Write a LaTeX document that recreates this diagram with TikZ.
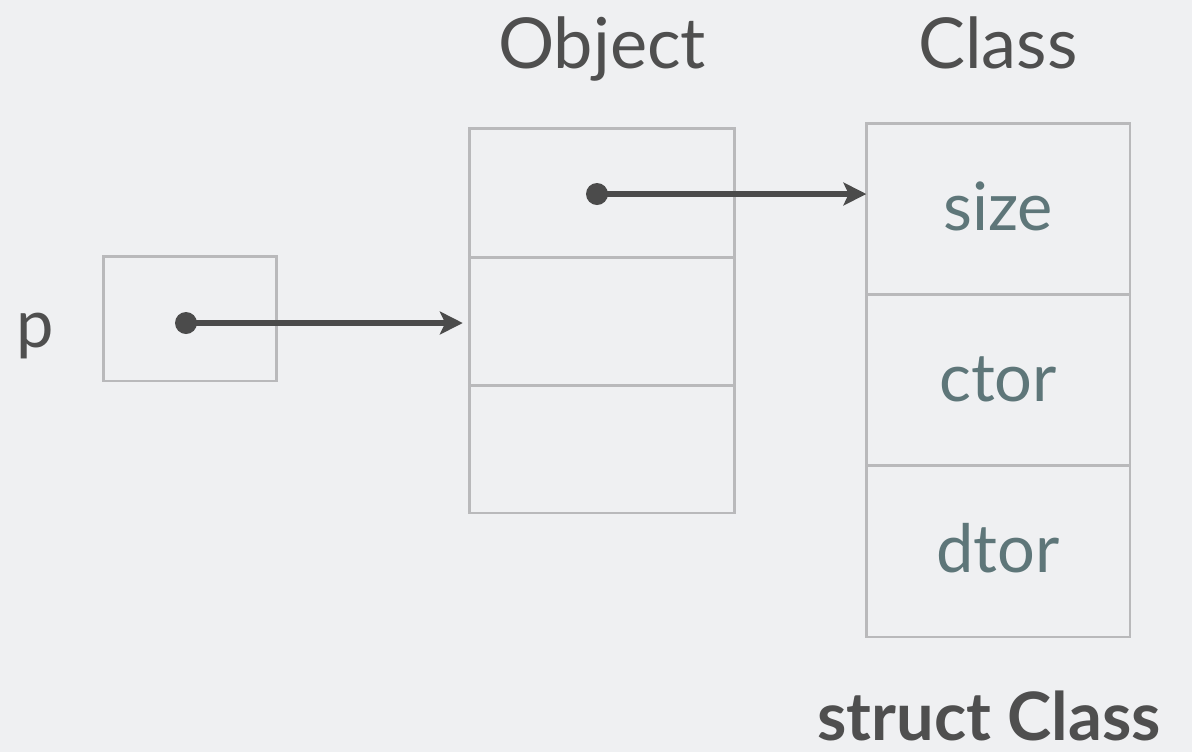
\documentclass[tikz,border=0pt]{standalone}
\usepackage{fontspec}
\setmainfont{Lato}
\usepackage{tikz}
\usetikzlibrary{positioning, arrows.meta}
\definecolor{bgcol}{HTML}{EFF0F2}
\definecolor{boxcol}{HTML}{B9B9BB}
\definecolor{arrcol}{HTML}{4B4B4B}
\definecolor{txtcol}{HTML}{4F4F4F}
\definecolor{fieldcol}{HTML}{5E7679}

\begin{document}
\begin{tikzpicture}[
    x=0.02cm, y=-0.02cm,
    cell/.style={draw=boxcol, line width=1.7pt, minimum width=5.3cm, inner sep=0pt},
    dot/.style={circle, fill=arrcol, inner sep=0pt, minimum size=0.44cm},
    ptr/.style={draw=arrcol, line width=3pt, -{Stealth[length=13pt,width=13pt,inset=3pt]}},
    big/.style={font=\fontsize{40}{48}\selectfont, text=txtcol, anchor=base},
    field/.style={font=\fontsize{38}{46}\selectfont, text=fieldcol, anchor=base}
    ]
\fill[bgcol] (0,0) rectangle (1192,752);
\useasboundingbox (0,0) rectangle (1192,752);

% pointer p
\node[big, font=\fontsize{38}{46}\selectfont] (plabel) at (35,347) {p};
\node[cell, minimum width=3.48cm, minimum height=2.5cm] (pbox) at (190,318.5) {};
\node[dot] (d1) at (186,323) {};

% object
\node[big] (objlabel) at (602,68) {Object};
\node[cell, minimum height=2.58cm] (obj1) at (602,192.5) {};
\node[cell, minimum height=2.56cm] (obj2) at (602,321) {};
\node[cell, minimum height=2.56cm] (obj3) at (602,449) {};
\node[dot] (d2) at (597,194) {};

% class
\node[big] (clslabel) at (998,68) {Class};
\node[cell, minimum width=5.28cm, minimum height=3.42cm] (cls1) at (998,208.5) {};
\node[cell, minimum width=5.28cm, minimum height=3.42cm] (cls2) at (998,379.5) {};
\node[cell, minimum width=5.28cm, minimum height=3.44cm] (cls3) at (998,551) {};
\node[field] (size) at (998,230) {size};
\node[field] (ctor) at (998,401) {ctor};
\node[field] (dtor) at (998,572) {dtor};
\node[big, font=\fontsize{38}{46}\selectfont\bfseries, inner sep=0pt] (structlabel) at (989,740) {struct Class};

\draw[ptr, shorten >=3pt] (d1.center) -- (d1 -| obj2.west);
\draw[ptr, shorten >=-1pt] (d2.center) -- (d2 -| cls1.west);
\end{tikzpicture}
\end{document}
